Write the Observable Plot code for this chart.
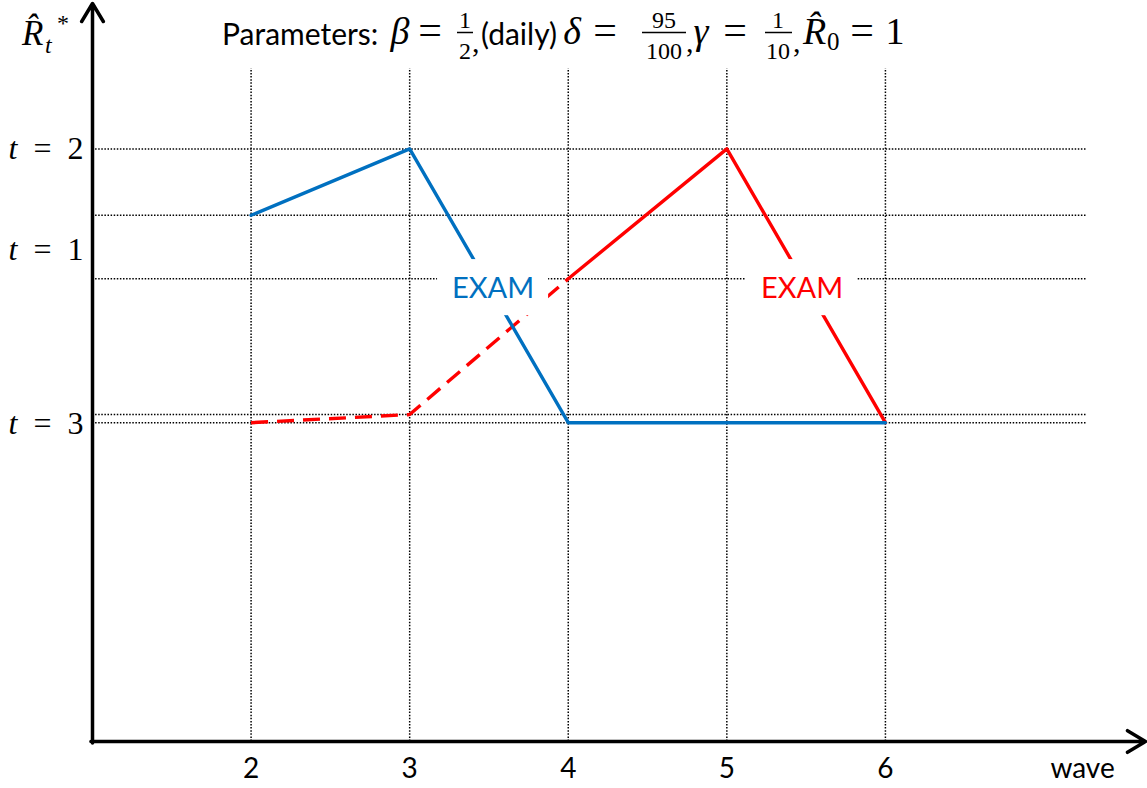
<!DOCTYPE html>
<html><head><meta charset="utf-8">
<script src="https://cdn.jsdelivr.net/npm/d3@7"></script>
<script src="https://cdn.jsdelivr.net/npm/@observablehq/plot@0.6"></script>
<style>
body{margin:0;background:#fff;}
#wrap{position:relative;width:1147px;height:788px;overflow:hidden}
#ttl{position:absolute;left:0;top:0}
#ttl .s{font-family:Lato;font-size:30px}
#ttl .m{font-family:"Liberation Serif";font-style:italic;font-size:38px}
#ttl .r{font-family:"Liberation Serif";font-size:38px}
#ttl .e{font-family:"Liberation Serif";font-size:42px}
#ttl .c{font-family:"Liberation Serif";font-size:30px}
#ttl .f{font-family:"Liberation Serif";font-size:24px}
#ttl .sub{font-family:"Liberation Serif";font-size:25px}
</style></head>
<body>
<div id="wrap">
<div id="chart"></div>
<svg id="ttl" width="1147" height="70" fill="#000">
  <!-- y axis label -->
  <text x="22" y="45" font-family="Liberation Serif" font-style="italic" font-size="35">R̂</text>
  <text x="45" y="53" font-family="Liberation Serif" font-style="italic" font-size="24">t</text>
  <text x="57" y="31" font-family="Liberation Serif" font-size="24">*</text>
  <!-- title -->
  <text class="s" x="222" y="45">Parameters:</text>
  <text class="m" x="400" y="44" text-anchor="middle">β</text>
  <text class="e" x="430" y="44" text-anchor="middle">=</text>
  <text class="f" x="465" y="28" text-anchor="middle">1</text>
  <line x1="457" x2="473" y1="32.5" y2="32.5" stroke="#000" stroke-width="1.5"/>
  <text class="f" x="465" y="59" text-anchor="middle">2</text>
  <text class="c" x="472" y="52">,</text>
  <text class="s" x="481" y="45">(daily)</text>
  <text class="m" x="572" y="44" text-anchor="middle">δ</text>
  <text class="e" x="605" y="44" text-anchor="middle">=</text>
  <text class="f" x="664" y="28" text-anchor="middle">95</text>
  <line x1="642" x2="686" y1="32.5" y2="32.5" stroke="#000" stroke-width="1.5"/>
  <text class="f" x="664" y="59" text-anchor="middle">100</text>
  <text class="c" x="686" y="52">,</text>
  <text class="m" x="701" y="44" text-anchor="middle">γ</text>
  <text class="e" x="735" y="44" text-anchor="middle">=</text>
  <text class="f" x="778" y="28" text-anchor="middle">1</text>
  <line x1="765" x2="792" y1="32.5" y2="32.5" stroke="#000" stroke-width="1.5"/>
  <text class="f" x="778" y="59" text-anchor="middle">10</text>
  <text class="c" x="793" y="52">,</text>
  <text class="m" x="803" y="44">R̂</text>
  <text class="sub" x="827" y="50">0</text>
  <text class="e" x="862" y="44" text-anchor="middle">=</text>
  <text class="r" x="895" y="44" text-anchor="middle">1</text>
</svg>
</div>
<script>
// x categories (waves)
const waves = [2, 3, 4, 5, 6];
// blue series
const blueX = [2, 3, 4, 5, 6];
const blueY = [7.13, 8.03, 4.32, 4.32, 4.32];
// red series: dashed part, solid part
const redDashX = [2, 3, 4];
const redDashY = [4.32, 4.43, 6.27];
const redSolidX = [4, 5, 6];
const redSolidY = [6.27, 8.03, 4.32];
// horizontal reference levels
const gridLevels = [8.03, 7.13, 6.27, 4.43, 4.32];
// y tick labels
const yLabels = ["t = 2", "t = 1", "t = 3"];
const yLabelPos = [8.03, 6.66, 4.31];
// annotations
const examX = [3.526, 5.474];
const examY = [6.15, 6.15];
const examText = ["EXAM", "EXAM"];
const examColor = ["#0070C0", "#FF0000"];
const xLabel = "wave";

const blue = blueX.map((x, i) => ({x, y: blueY[i]}));
const redDash = redDashX.map((x, i) => ({x, y: redDashY[i]}));
const redSolid = redSolidX.map((x, i) => ({x, y: redSolidY[i]}));
const ylab = yLabels.map((t, i) => ({t, y: yLabelPos[i]}));
const exams = examX.map((x, i) => ({x, y: examY[i], text: examText[i], color: examColor[i]}));

const xDom = [1, 7.64], yDom = [0, 10];
const gridTop = 9.12, gridRight = 7.27;

const chart = Plot.plot({
  width: 1147, height: 788,
  marginLeft: 0, marginRight: 0, marginTop: 0, marginBottom: 0,
  x: {domain: xDom, range: [92, 1145], axis: null},
  y: {domain: yDom, range: [741, 3], axis: null},
  color: {type: "identity"},
  style: {background: "white", overflow: "visible"},
  marks: [
    Plot.ruleX(waves, {x: d => d, y1: yDom[0], y2: gridTop, stroke: "black", strokeWidth: 1.5, strokeDasharray: "1.5,1.6"}),
    Plot.ruleY(gridLevels, {y: d => d, x1: xDom[0], x2: gridRight, stroke: "black", strokeWidth: 1.5, strokeDasharray: "1.5,1.6"}),
    Plot.line(redDash, {x: "x", y: "y", stroke: "#FF0000", strokeWidth: 3.4, strokeDasharray: "17,9", strokeLinecap: "butt"}),
    Plot.line(redSolid, {x: "x", y: "y", stroke: "#FF0000", strokeWidth: 3.4}),
    Plot.line(blue, {x: "x", y: "y", stroke: "#0070C0", strokeWidth: 3.4}),
    Plot.rect(exams, {x1: d => d.x - 0.35, x2: d => d.x + 0.35, y1: d => d.y - 0.38, y2: d => d.y + 0.38, fill: "white"}),
    Plot.text(exams, {x: "x", y: "y", text: "text", fill: "color", fontSize: 29, fontFamily: "Lato", dy: 1}),
    Plot.arrow([{x1: xDom[0], y1: yDom[0] - 0.02, x2: xDom[0], y2: yDom[1]}], {x1: "x1", y1: "y1", x2: "x2", y2: "y2", stroke: "black", strokeWidth: 3.5, headLength: 9, headAngle: 62}),
    Plot.arrow([{x1: xDom[0] - 0.01, y1: yDom[0], x2: xDom[1], y2: yDom[0]}], {x1: "x1", y1: "y1", x2: "x2", y2: "y2", stroke: "black", strokeWidth: 3.5, headLength: 9, headAngle: 62}),
    Plot.text(waves, {x: d => d, y: yDom[0], dy: 28, text: d => String(d), fontSize: 28, fontFamily: "Lato", fill: "black"}),
    Plot.text([xLabel], {x: 7.243, y: yDom[0], dy: 28, text: d => d, fontSize: 28, fontFamily: "Lato", fill: "black"}),
    Plot.text(ylab, {x: xDom[0], y: "y", dx: -9, text: "t", textAnchor: "end", fontSize: 32, fontFamily: "Liberation Serif", fill: "black"})
  ]
});
document.getElementById("chart").appendChild(chart);

// italicize the math variable "t" in the y labels
d3.select(chart).selectAll("text").each(function() {
  const s = this.textContent;
  const m = /^t = (.*)$/.exec(s);
  if (m) {
    const sel = d3.select(this);
    sel.text(null);
    sel.append("tspan").attr("font-style", "italic").text("t");
    sel.append("tspan").text("\u2002=\u2002" + m[1]);
  }
});
</script>
</body></html>
